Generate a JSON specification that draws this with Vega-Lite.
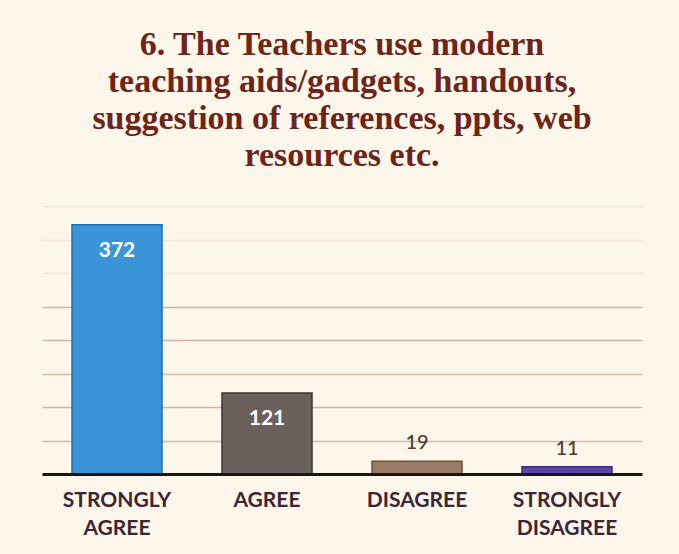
{
  "$schema": "https://vega.github.io/schema/vega-lite/v6.json",
  "width": 600,
  "height": 268,
  "autosize": "none",
  "padding": {"left": 42, "top": 206, "right": 37, "bottom": 80},
  "background": "#fcf7ea",
  "title": {
    "text": ["6. The Teachers use modern", "teaching aids/gadgets, handouts,", "suggestion of references, ppts, web", "resources etc."],
    "font": "Liberation Serif",
    "fontSize": 34,
    "fontWeight": "bold",
    "color": "#6e2418",
    "lineHeight": 37,
    "anchor": "middle",
    "offset": 33
  },
  "config": {"view": {"stroke": null}},
  "data": {
    "values": [
      {"category": "STRONGLY AGREE", "value": 372},
      {"category": "AGREE", "value": 121},
      {"category": "DISAGREE", "value": 19},
      {"category": "STRONGLY DISAGREE", "value": 11}
    ]
  },
  "encoding": {
    "x": {
      "field": "category",
      "type": "nominal",
      "sort": null,
      "scale": {"paddingInner": 0.4, "paddingOuter": 0.2},
      "axis": {
        "title": null,
        "labelAngle": 0,
        "labelExpr": "split(datum.label, ' ')",
        "labelFont": "Lato",
        "labelFontWeight": "bold",
        "labelFontSize": 21,
        "labelColor": "#3d2535",
        "labelLineHeight": 28,
        "labelPadding": 15,
        "ticks": false,
        "domainWidth": 3,
        "domainColor": "#1c1512",
        "zindex": 2
      }
    },
    "y": {
      "field": "value",
      "type": "quantitative",
      "scale": {"domain": [0, 400], "nice": false},
      "axis": {
        "title": null,
        "labels": false,
        "ticks": false,
        "domain": false,
        "values": [50, 100, 150, 200, 250, 300, 350, 400],
        "gridColor": "#d3b6a3",
        "gridWidth": 1.3,
        "gridOpacity": {"condition": {"test": "datum.value > 275", "value": 0.25}, "value": 1}
      }
    }
  },
  "layer": [
    {
      "mark": {"type": "bar", "strokeWidth": 1.5},
      "encoding": {
        "color": {
          "field": "category",
          "type": "nominal",
          "sort": null,
          "legend": null,
          "scale": {
            "domain": ["STRONGLY AGREE", "AGREE", "DISAGREE", "STRONGLY DISAGREE"],
            "range": ["#3a95d8", "#6b605c", "#9a7b68", "#5b45a8"]
          }
        },
        "stroke": {
          "field": "category",
          "type": "nominal",
          "sort": null,
          "legend": null,
          "scale": {
            "domain": ["STRONGLY AGREE", "AGREE", "DISAGREE", "STRONGLY DISAGREE"],
            "range": ["#1f6fb8", "#3e3330", "#6e5040", "#3a2a80"]
          }
        }
      }
    },
    {
      "transform": [{"filter": "datum.value > 100"}],
      "mark": {"type": "text", "font": "Lato", "fontWeight": "bold", "fontSize": 21, "color": "#ffffff", "baseline": "middle", "dy": 26},
      "encoding": {"text": {"field": "value", "type": "quantitative"}}
    },
    {
      "transform": [{"filter": "datum.value <= 100"}],
      "mark": {"type": "text", "font": "Lato", "fontWeight": 500, "fontSize": 20, "color": "#4f3a30", "baseline": "middle", "dy": -18},
      "encoding": {"text": {"field": "value", "type": "quantitative"}}
    }
  ]
}
